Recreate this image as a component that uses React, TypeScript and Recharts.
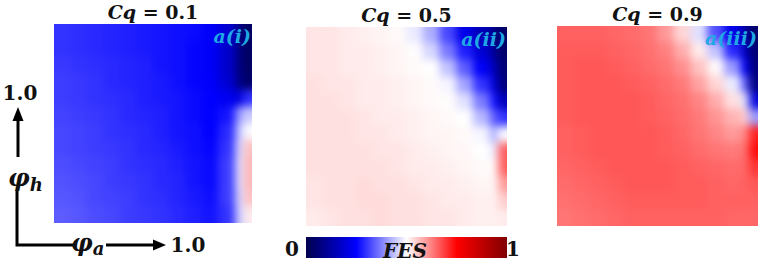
import { Scatter, ScatterChart, XAxis, YAxis } from "recharts";

// seismic colour map used by the FES scale (0 -> navy, 0.5 -> white, 1 -> dark red)
const fesStops = [0, 0.25, 0.5, 0.75, 1];
const fesColors = [
    [0, 0, 77],
    [0, 0, 255],
    [255, 255, 255],
    [255, 0, 0],
    [128, 0, 0],
];

const cqLabels = ["0.1", "0.5", "0.9"];
const panelTags = ["a(i)", "a(ii)", "a(iii)"];

// column edges of the sampled grid in twelfths of phi_a (last column split for the edge streaks)
const colEdges = [0, 1, 2, 3, 4, 5, 6, 7, 8, 9, 10, 11, 11.5, 12];

// FES, rows from phi_h = 1 (top) down to 0, columns phi_a = 0 -> 1
const cq01 = [
    [0.3, 0.295, 0.29, 0.285, 0.28, 0.275, 0.27, 0.265, 0.26, 0.245, 0.19, 0.08, 0.03],
    [0.3, 0.295, 0.29, 0.285, 0.28, 0.275, 0.27, 0.265, 0.255, 0.24, 0.18, 0.07, 0.03],
    [0.305, 0.3, 0.295, 0.29, 0.285, 0.28, 0.27, 0.265, 0.255, 0.24, 0.18, 0.07, 0.03],
    [0.31, 0.305, 0.3, 0.29, 0.285, 0.28, 0.275, 0.265, 0.255, 0.245, 0.19, 0.08, 0.04],
    [0.31, 0.305, 0.3, 0.295, 0.29, 0.28, 0.275, 0.27, 0.26, 0.25, 0.23, 0.2, 0.3],
    [0.315, 0.31, 0.305, 0.3, 0.29, 0.285, 0.28, 0.27, 0.26, 0.25, 0.27, 0.4, 0.45],
    [0.32, 0.315, 0.31, 0.3, 0.295, 0.29, 0.28, 0.27, 0.265, 0.25, 0.29, 0.44, 0.5],
    [0.32, 0.315, 0.31, 0.305, 0.3, 0.29, 0.285, 0.275, 0.265, 0.255, 0.3, 0.46, 0.56],
    [0.325, 0.32, 0.315, 0.31, 0.3, 0.295, 0.29, 0.28, 0.27, 0.26, 0.31, 0.47, 0.57],
    [0.33, 0.325, 0.32, 0.31, 0.305, 0.3, 0.29, 0.285, 0.27, 0.26, 0.31, 0.47, 0.57],
    [0.335, 0.33, 0.32, 0.315, 0.31, 0.3, 0.295, 0.285, 0.275, 0.265, 0.31, 0.46, 0.56],
    [0.34, 0.335, 0.325, 0.32, 0.31, 0.305, 0.3, 0.29, 0.28, 0.27, 0.3, 0.45, 0.52],
];

const cq05 = [
    [0.525, 0.525, 0.52, 0.515, 0.51, 0.505, 0.48, 0.42, 0.32, 0.22, 0.15, 0.08, 0.04],
    [0.525, 0.525, 0.52, 0.52, 0.515, 0.51, 0.502, 0.46, 0.37, 0.28, 0.19, 0.1, 0.04],
    [0.525, 0.525, 0.52, 0.52, 0.515, 0.51, 0.505, 0.5, 0.44, 0.34, 0.24, 0.15, 0.05],
    [0.53, 0.525, 0.525, 0.52, 0.52, 0.515, 0.51, 0.505, 0.49, 0.41, 0.3, 0.2, 0.06],
    [0.53, 0.53, 0.525, 0.52, 0.52, 0.515, 0.51, 0.505, 0.503, 0.47, 0.37, 0.27, 0.15],
    [0.53, 0.53, 0.53, 0.525, 0.52, 0.52, 0.515, 0.51, 0.505, 0.5, 0.43, 0.34, 0.3],
    [0.53, 0.53, 0.53, 0.525, 0.525, 0.52, 0.515, 0.51, 0.51, 0.505, 0.49, 0.42, 0.5],
    [0.53, 0.53, 0.53, 0.53, 0.525, 0.525, 0.52, 0.515, 0.51, 0.508, 0.5, 0.48, 0.66],
    [0.53, 0.53, 0.53, 0.53, 0.53, 0.525, 0.52, 0.52, 0.515, 0.51, 0.505, 0.505, 0.66],
    [0.525, 0.53, 0.53, 0.535, 0.53, 0.53, 0.525, 0.52, 0.52, 0.515, 0.51, 0.51, 0.6],
    [0.525, 0.53, 0.53, 0.535, 0.535, 0.53, 0.53, 0.525, 0.52, 0.52, 0.515, 0.515, 0.55],
    [0.52, 0.525, 0.53, 0.53, 0.535, 0.53, 0.53, 0.525, 0.525, 0.52, 0.515, 0.515, 0.52],
];

const cq09 = [
    [0.655, 0.655, 0.655, 0.65, 0.645, 0.635, 0.6, 0.54, 0.47, 0.33, 0.22, 0.12, 0.04],
    [0.66, 0.66, 0.66, 0.655, 0.65, 0.64, 0.625, 0.58, 0.52, 0.44, 0.29, 0.16, 0.05],
    [0.66, 0.665, 0.665, 0.66, 0.655, 0.645, 0.635, 0.61, 0.56, 0.505, 0.4, 0.24, 0.06],
    [0.66, 0.665, 0.665, 0.665, 0.66, 0.655, 0.645, 0.63, 0.59, 0.54, 0.48, 0.34, 0.07],
    [0.66, 0.665, 0.665, 0.665, 0.665, 0.66, 0.65, 0.64, 0.62, 0.58, 0.53, 0.47, 0.2],
    [0.66, 0.665, 0.665, 0.665, 0.665, 0.66, 0.655, 0.645, 0.63, 0.605, 0.575, 0.55, 0.4],
    [0.655, 0.66, 0.665, 0.665, 0.665, 0.665, 0.66, 0.65, 0.635, 0.62, 0.6, 0.62, 0.72],
    [0.655, 0.66, 0.665, 0.665, 0.665, 0.665, 0.66, 0.655, 0.645, 0.635, 0.63, 0.64, 0.74],
    [0.65, 0.655, 0.66, 0.665, 0.665, 0.665, 0.665, 0.66, 0.655, 0.65, 0.645, 0.65, 0.7],
    [0.645, 0.65, 0.655, 0.66, 0.665, 0.665, 0.665, 0.66, 0.66, 0.655, 0.65, 0.655, 0.665],
    [0.64, 0.645, 0.65, 0.655, 0.66, 0.66, 0.66, 0.66, 0.66, 0.655, 0.655, 0.655, 0.655],
    [0.635, 0.64, 0.645, 0.65, 0.655, 0.655, 0.655, 0.655, 0.655, 0.655, 0.65, 0.65, 0.65],
];

const panels = [
    { rows: cq01, left: 54, top: 24, width: 198, height: 199 },
    { rows: cq05, left: 306, top: 27, width: 201, height: 199 },
    { rows: cq09, left: 557, top: 26, width: 201, height: 200 },
];

const serif = "'DejaVu Serif', serif";

function fesColor(v: number) {
    const t = Math.min(1, Math.max(0, v));
    let i = 0;
    while (i < fesStops.length - 2 && t > fesStops[i + 1]) i++;
    const f = (t - fesStops[i]) / (fesStops[i + 1] - fesStops[i]);
    const a = fesColors[i];
    const b = fesColors[i + 1];
    const c = a.map((ch, k) => Math.round(ch + (b[k] - ch) * f));
    return `rgb(${c[0]},${c[1]},${c[2]})`;
}

function toCells(rows: number[][]) {
    const n = colEdges[colEdges.length - 1];
    return rows.flatMap((row, r) =>
        row.map((v, c) => ({
            x: (colEdges[c] + colEdges[c + 1]) / 2 / n,
            y: 1 - (r + 0.5) / rows.length,
            span: (colEdges[c + 1] - colEdges[c]) / n,
            v,
        }))
    );
}

function FesPanel({ rows, left, top, width, height }: { rows: number[][]; left: number; top: number; width: number; height: number }) {
    const ch = height / rows.length + 1;
    return (
        <div style={{ position: "absolute", left, top, width, height, filter: "url(#fes-smooth)" }}>
            <ScatterChart width={width} height={height} margin={{ top: 0, right: 0, bottom: 0, left: 0 }}>
                <XAxis type="number" dataKey="x" domain={[0, 1]} hide />
                <YAxis type="number" dataKey="y" domain={[0, 1]} hide />
                <Scatter
                    data={toCells(rows)}
                    isAnimationActive={false}
                    shape={(p: any) => {
                        const cw = p.payload.span * width + 1;
                        return <rect x={p.cx - cw / 2} y={p.cy - ch / 2} width={cw} height={ch} fill={fesColor(p.payload.v)} />;
                    }}
                />
            </ScatterChart>
        </div>
    );
}

export default function App() {
    return (
        <div style={{ position: "absolute", left: 0, top: 0, width: 761, height: 267, background: "#fff", overflow: "hidden" }}>
            <svg width={0} height={0} style={{ position: "absolute" }}>
                <defs>
                    <filter id="fes-smooth" x="0" y="0" width="1" height="1" colorInterpolationFilters="sRGB">
                        <feGaussianBlur stdDeviation="4" />
                        <feComponentTransfer>
                            <feFuncA type="linear" slope="0" intercept="1" />
                        </feComponentTransfer>
                    </filter>
                </defs>
            </svg>
            {panels.map((p, i) => (
                <FesPanel key={i} {...p} />
            ))}
            <svg width={761} height={267} style={{ position: "absolute", left: 0, top: 0, pointerEvents: "none" }}>
                <defs>
                    <linearGradient id="fes-bar" x1="0" x2="1" y1="0" y2="0">
                        {fesStops.map((s) => (
                            <stop key={s} offset={s} stopColor={fesColor(s)} />
                        ))}
                    </linearGradient>
                </defs>
                {panels.map((p, i) => (
                    <g key={i} fontFamily={serif} fontWeight="bold">
                        <text x={p.left + p.width / 2} y={p.top - 5} textAnchor="middle" fontSize={19} fill="#111">
                            <tspan fontStyle="italic">Cq</tspan> = {cqLabels[i]}
                        </text>
                        <text x={p.left + p.width - 1} y={p.top + 19} textAnchor="end" fontSize={19} fontStyle="italic" fill="#1fa8e4">
                            {panelTags[i]}
                        </text>
                    </g>
                ))}

                {/* colour bar */}
                <rect x={306} y={237} width={201} height={21} fill="url(#fes-bar)" />
                <g fontFamily={serif} fontWeight="bold" fontSize={20} fill="#111">
                    <text x={292} y={256} textAnchor="middle">0</text>
                    <text x={513} y={256} textAnchor="middle">1</text>
                    <text x={405} y={258} textAnchor="middle" fontStyle="italic">FES</text>
                </g>

                {/* axis sketch */}
                <g stroke="#000" strokeWidth={3} fill="none">
                    <path d="M18 157 V118" />
                    <path d="M17 190 V245 H75" />
                    <path d="M106 245 H156" />
                </g>
                <polygon points="18,107 12.5,121 23.5,121" fill="#000" />
                <polygon points="166,245 153,239.5 153,250.5" fill="#000" />
                <g fontFamily={serif} fontWeight="bold" fill="#111">
                    <text x={20} y={100} textAnchor="middle" fontSize={20}>1.0</text>
                    <text x={188} y={252} textAnchor="middle" fontSize={20}>1.0</text>
                    <text x={8} y={186} fontSize={24} fontStyle="italic">φ<tspan fontSize={18} dy={5}>h</tspan></text>
                    <text x={71} y={251} fontSize={24} fontStyle="italic">φ<tspan fontSize={18} dy={4}>a</tspan></text>
                </g>
            </svg>
        </div>
    );
}
